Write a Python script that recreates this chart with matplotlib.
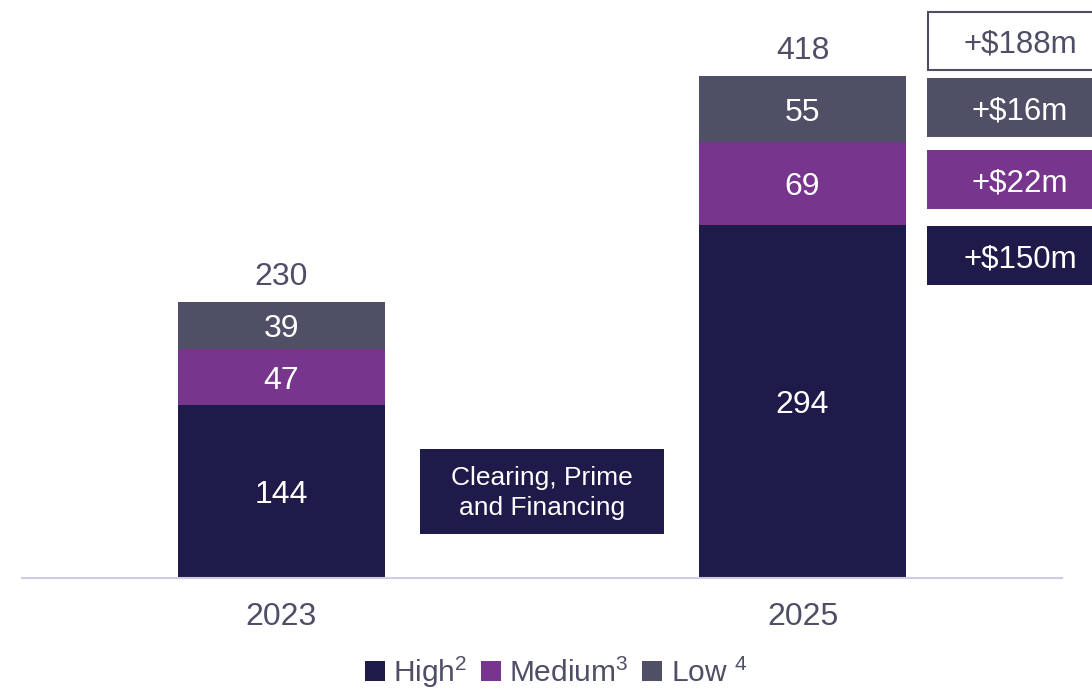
import matplotlib
matplotlib.use("Agg")
import matplotlib.pyplot as plt
from matplotlib.patches import Rectangle, Patch

plt.rcParams['font.family'] = ['Liberation Sans', 'DejaVu Sans']
plt.rcParams['mathtext.fontset'] = 'custom'
plt.rcParams['mathtext.rm'] = 'Liberation Sans'
plt.rcParams['mathtext.it'] = 'Liberation Sans'

# data
years = ["2023", "2025"]
high = [144, 294]
medium = [47, 69]
low = [39, 55]
series_names = ["High$^{2}$", "Medium$^{3}$", "Low $^{4}$"]

C_HIGH = "#1E1A4A"
C_MED = "#78358E"
C_LOW = "#4F4F66"
C_TEXT = "#4F4E67"

W, H = 1092, 691
fig = plt.figure(figsize=(W / 100, H / 100), dpi=100)

# axes placed so that the baseline sits at pixel row 578
ax = fig.add_axes([22 / W, (H - 578) / H, (1062 - 22) / W, 578 / H])
ax.set_xlim(-0.498, 1.498)
ax.set_ylim(0, 578 / 1.2)

x = [0, 1]
bw = 0.397
bottoms_med = [h for h in high]
bottoms_low = [h + m for h, m in zip(high, medium)]
totals = [h + m + l for h, m, l in zip(high, medium, low)]

ax.bar(x, high, bw, color=C_HIGH, label=series_names[0])
ax.bar(x, medium, bw, bottom=bottoms_med, color=C_MED, label=series_names[1])
ax.bar(x, low, bw, bottom=bottoms_low, color=C_LOW, label=series_names[2])

FS = 23
kw = dict(ha='center', va='center_baseline', fontsize=FS)
for i in x:
    ax.text(i, high[i] / 2, str(high[i]), color='white', **kw)
    ax.text(i, bottoms_med[i] + medium[i] / 2, str(medium[i]), color='white', **kw)
    ax.text(i, bottoms_low[i] + low[i] / 2, str(low[i]), color='white', **kw)
    ax.text(i, totals[i] + 24, str(totals[i]), color=C_TEXT, **kw)

for s in ['top', 'right', 'left']:
    ax.spines[s].set_visible(False)
ax.spines['bottom'].set_color("#CFCBE3")
ax.spines['bottom'].set_linewidth(1.5)
ax.set_yticks([])
ax.set_xticks(x)
ax.set_xticklabels(years, fontsize=FS, color=C_TEXT)
ax.tick_params(axis='x', length=0, pad=17)


def px_rect(x0, y0, x1, y1, **kw):
    r = Rectangle((x0 / W, 1 - y1 / H), (x1 - x0) / W, (y1 - y0) / H,
                  transform=fig.transFigure, **kw)
    fig.add_artist(r)


def px_text(xc, yc, s, **kw):
    fig.text(xc / W, 1 - yc / H, s, ha='center', **kw)


# middle label box
px_rect(420, 449, 664, 534, facecolor=C_HIGH, edgecolor='none')
px_text(542, 493, "Clearing, Prime\nand Financing", va='center', color='white', fontsize=19, linespacing=1.3)

# change boxes on the right
deltas = [totals[1] - totals[0], low[1] - low[0], medium[1] - medium[0], high[1] - high[0]]
box_rows = [(12, 70), (78, 137), (150, 209), (226, 285)]
box_colors = ["white", C_LOW, C_MED, C_HIGH]
for d, (y0, y1), c in zip(deltas, box_rows, box_colors):
    if c == "white":
        px_rect(928, y0, 1100, y1, facecolor='white', edgecolor=C_TEXT, linewidth=1.5)
        px_text(1020, (y0 + y1) / 2, f"+${d}m", va='center_baseline', color=C_TEXT, fontsize=22.5)
    else:
        px_rect(927, y0, 1100, y1, facecolor=c, edgecolor='none')
        px_text(1020, (y0 + y1) / 2, f"+${d}m", va='center_baseline', color='white', fontsize=22.5)

handles = [Patch(facecolor=C_HIGH), Patch(facecolor=C_MED), Patch(facecolor=C_LOW)]
leg = fig.legend(handles, series_names, loc='center', bbox_to_anchor=(556 / W, 1 - 672 / H),
                 ncol=3, frameon=False, fontsize=21.5, handlelength=0.65, handleheight=0.65,
                 handletextpad=0.3, columnspacing=0.45, borderpad=0)
for t in leg.get_texts():
    t.set_color(C_TEXT)

fig.savefig("out.png", dpi=100)
